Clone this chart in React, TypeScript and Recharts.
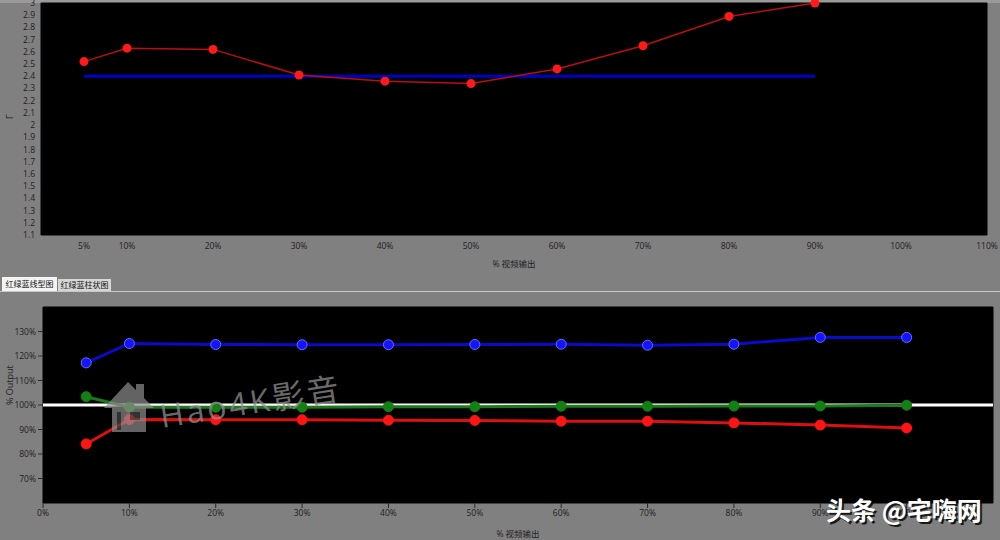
import { LineChart, Line, XAxis, YAxis, CartesianGrid, ReferenceLine } from 'recharts';

// gamma chart
const gammaLevels = [5, 10, 20, 30, 40, 50, 60, 70, 80, 90];
const gammaMeasured = [2.52, 2.63, 2.62, 2.41, 2.36, 2.34, 2.46, 2.65, 2.89, 3.0];
const gammaTarget = [2.4, 2.4, 2.4, 2.4, 2.4, 2.4, 2.4, 2.4, 2.4, 2.4];
const gammaXTicks = [5, 10, 20, 30, 40, 50, 60, 70, 80, 90, 100, 110];
const gammaYTicks = [1.1, 1.2, 1.3, 1.4, 1.5, 1.6, 1.7, 1.8, 1.9, 2, 2.1, 2.2, 2.3, 2.4, 2.5, 2.6, 2.7, 2.8, 2.9, 3];

// rgb balance chart
const rgbLevels = [5, 10, 20, 30, 40, 50, 60, 70, 80, 90, 100];
const redOutput = [84.1, 94.1, 94.0, 94.0, 93.8, 93.7, 93.4, 93.4, 92.7, 91.8, 90.6];
const greenOutput = [103.4, 99.1, 99.1, 99.1, 99.3, 99.3, 99.5, 99.5, 99.6, 99.6, 99.9];
const blueOutput = [117.2, 125.1, 124.7, 124.6, 124.6, 124.7, 124.8, 124.4, 124.8, 127.6, 127.6];
const rgbXTicks = [0, 10, 20, 30, 40, 50, 60, 70, 80, 90, 100];
const rgbYTicks = [70, 80, 90, 100, 110, 120, 130];

const tabs = ['红绿蓝线型图', '红绿蓝柱状图'];

const gammaData = gammaLevels.map((x, i) => ({ x, gamma: gammaMeasured[i], target: gammaTarget[i] }));
const rgbData = rgbLevels.map((x, i) => ({ x, r: redOutput[i], g: greenOutput[i], b: blueOutput[i] }));

const FONT = '"Open Sans", "Noto Sans CJK SC", sans-serif';
const CJK = '"Noto Sans CJK SC", sans-serif';
const tickStyle = { fill: '#1e1e1e', fontSize: 8.5, fontFamily: FONT };
const pct = (v: number) => `${v}%`;

export default function App() {
  return (
    <div style={{ position: 'relative', width: 1000, height: 540, background: '#808080', overflow: 'hidden', fontFamily: FONT }}>
      <style>{'body{margin:0}'}</style>
      <div style={{ position: 'absolute', left: 0, top: 0, width: 1000, height: 3, background: '#9a9a9a' }} />

      <div style={{ position: 'absolute', left: 0, top: 0 }}>
        <LineChart width={1000} height={270} data={gammaData} margin={{ top: 3, right: 13, bottom: 0, left: 0 }}>
          <CartesianGrid fill="#000" stroke="#000" />
          <XAxis
            dataKey="x"
            type="number"
            domain={[0, 110]}
            ticks={gammaXTicks}
            tickFormatter={pct}
            axisLine={false}
            tickLine={false}
            tick={tickStyle}
            height={35}
            interval={0}
            label={{ value: '% 视频输出', position: 'insideBottom', offset: 3, style: { fill: '#1e1e1e', fontSize: 8.5, fontFamily: FONT } }}
          />
          <YAxis
            type="number"
            domain={[1.1, 3]}
            ticks={gammaYTicks}
            interval={0}
            axisLine={false}
            tickLine={false}
            tickSize={4}
            tick={tickStyle}
            width={41}
            label={{ value: 'Γ', angle: -90, position: 'insideLeft', offset: 10, style: { fill: '#1e1e1e', fontSize: 9, fontFamily: FONT } }}
          />
          <Line dataKey="target" stroke="#0000c8" strokeWidth={3} dot={false} isAnimationActive={false} />
          <Line dataKey="gamma" stroke="#b81010" strokeWidth={1.5} dot={{ r: 4.5, fill: '#ff1a1a', stroke: 'none' }} isAnimationActive={false} />
        </LineChart>
      </div>

      {/* tabs */}
      <div style={{ position: 'absolute', left: 2, top: 277, width: 55, height: 14, background: '#f4f4f4', fontSize: 8, lineHeight: '14px', color: '#111', fontFamily: CJK, textAlign: 'center' }}>{tabs[0]}</div>
      <div style={{ position: 'absolute', left: 58, top: 279, width: 53, height: 12, background: '#d6d6d6', fontSize: 8, lineHeight: '12px', color: '#111', fontFamily: CJK, textAlign: 'center' }}>{tabs[1]}</div>
      <div style={{ position: 'absolute', left: 0, top: 291, width: 1000, height: 1, background: '#c8c8c8' }} />

      <div style={{ position: 'absolute', left: 0, top: 292 }}>
        <LineChart width={1000} height={248} data={rgbData} margin={{ top: 15, right: 7, bottom: 0, left: 0 }}>
          <CartesianGrid fill="#000" stroke="#000" />
          <XAxis
            dataKey="x"
            type="number"
            domain={[0, 110]}
            ticks={rgbXTicks}
            tickFormatter={pct}
            axisLine={false}
            tickLine={{ stroke: '#2a2a2a' }}
            tickSize={5}
            tick={tickStyle}
            height={37}
            interval={0}
            label={{ value: '% 视频输出', position: 'insideBottom', offset: 3, style: { fill: '#1e1e1e', fontSize: 8.5, fontFamily: FONT } }}
          />
          <YAxis
            type="number"
            domain={[60, 140]}
            ticks={rgbYTicks}
            tickFormatter={pct}
            interval={0}
            axisLine={false}
            tickLine={{ stroke: '#2a2a2a' }}
            tickSize={5}
            tick={tickStyle}
            width={43}
            label={{ value: '% Output', angle: -90, position: 'insideLeft', offset: 10, style: { fill: '#1e1e1e', fontSize: 9, fontFamily: FONT } }}
          />
          <ReferenceLine y={100} stroke="#ffffff" strokeWidth={3} />
          <Line dataKey="b" stroke="#0a0ac8" strokeWidth={3} dot={{ r: 5, fill: '#1414ff', stroke: '#6a6aff', strokeWidth: 1 }} isAnimationActive={false} />
          <Line dataKey="g" stroke="#1a7a1a" strokeWidth={3} dot={{ r: 5, fill: '#138013', stroke: '#138013', strokeWidth: 1 }} isAnimationActive={false} />
          <Line dataKey="r" stroke="#dc1010" strokeWidth={3} dot={{ r: 5, fill: '#ff1414', stroke: '#ff1414', strokeWidth: 1 }} isAnimationActive={false} />
        </LineChart>
      </div>

      {/* watermarks */}
      <svg width={1000} height={540} style={{ position: 'absolute', left: 0, top: 0, pointerEvents: 'none' }}>
        <g opacity={0.7} fill="#8e8e8e">
          <path d="M104 408 L128 382 L136 390 L136 384 L144 384 L144 398 L154 408 L146 408 L146 432 L112 432 L112 408 Z" />
          <rect x={117} y={412} width={4} height={18} fill="#000" opacity={0.5} />
          <rect x={130} y={412} width={10} height={8} fill="#000" opacity={0.5} />
        </g>
        <text x={162} y={428} transform="rotate(-9 162 428)" fontSize={32} letterSpacing={3} fontFamily={FONT} fill="#8e8e8e" opacity={0.75}>Hao4K影音</text>
        <text x={826} y={520} fontSize={25} fontWeight="bold" fontFamily={CJK} fill="#000" opacity={0.8} transform="translate(2 2)">头条 @宅嗨网</text>
        <text x={826} y={520} fontSize={25} fontWeight="bold" fontFamily={CJK} fill="#ffffff">头条 @宅嗨网</text>
      </svg>
    </div>
  );
}
